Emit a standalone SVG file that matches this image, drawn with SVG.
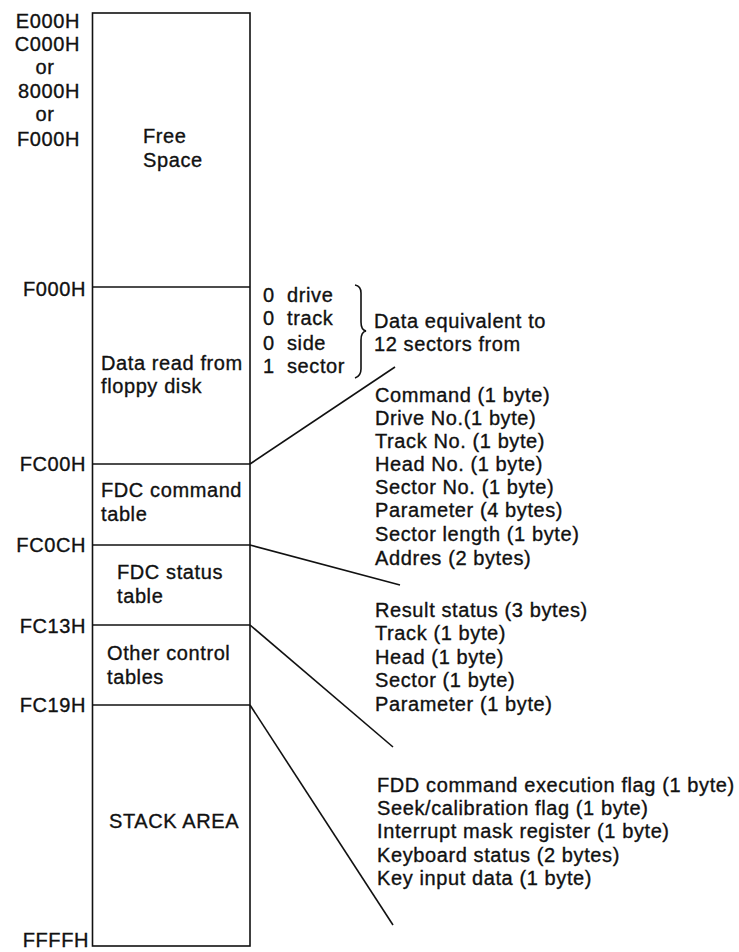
<svg xmlns="http://www.w3.org/2000/svg" width="739" height="952" viewBox="0 0 739 952">
  <style>
    text { font-family: "Liberation Sans", Arial, sans-serif; font-size: 20px; letter-spacing: 0.6px; fill: #111; stroke: #111; stroke-width: 0.35px; }
    .addr { text-anchor: end; }
    .mid { text-anchor: middle; }
    .ln { stroke: #111; stroke-width: 1.6; fill: none; }
  </style>
  <rect width="739" height="952" fill="#fff"/>

  <!-- memory map column -->
  <g id="memory-map">
    <rect class="ln" x="92.5" y="13" width="157.5" height="933"/>
  </g>

  <g id="free-space">
    <text class="addr" x="80" y="28">E000H</text>
    <text class="addr" x="80" y="51">C000H</text>
    <text class="mid" x="45" y="74">or</text>
    <text class="addr" x="80" y="98">8000H</text>
    <text class="mid" x="45" y="121">or</text>
    <text class="addr" x="80" y="146">F000H</text>
    <text x="143" y="143">Free</text>
    <text x="143" y="167">Space</text>
  </g>

  <g id="disk-data">
    <line class="ln" x1="92.5" y1="287" x2="250" y2="287"/>
    <text class="addr" x="86" y="296">F000H</text>
    <text x="101" y="370">Data read from</text>
    <text x="101" y="393">floppy disk</text>
  </g>

  <g id="fdc-command">
    <line class="ln" x1="92.5" y1="464" x2="250" y2="464"/>
    <text class="addr" x="86" y="471">FC00H</text>
    <text x="101" y="497">FDC command</text>
    <text x="101" y="521">table</text>
  </g>

  <g id="fdc-status">
    <line class="ln" x1="92.5" y1="545" x2="250" y2="545"/>
    <text class="addr" x="86" y="552">FC0CH</text>
    <text x="117" y="579">FDC status</text>
    <text x="117" y="603">table</text>
  </g>

  <g id="other-tables">
    <line class="ln" x1="92.5" y1="625" x2="250" y2="625"/>
    <text class="addr" x="86" y="633">FC13H</text>
    <text x="107" y="660">Other control</text>
    <text x="107" y="684">tables</text>
  </g>

  <g id="stack-area">
    <line class="ln" x1="92.5" y1="705" x2="250" y2="705"/>
    <text class="addr" x="86" y="712">FC19H</text>
    <text x="109" y="828">STACK AREA</text>
    <text class="addr" x="89" y="947">FFFFH</text>
  </g>

  <!-- source sector description with brace -->
  <g id="sector-source">
    <text x="263" y="302">0</text><text x="287" y="302">drive</text>
    <text x="263" y="325">0</text><text x="287" y="325">track</text>
    <text x="263" y="350">0</text><text x="287" y="350">side</text>
    <text x="263" y="373">1</text><text x="287" y="373">sector</text>
    <path class="ln" d="M355,285 Q361,286 361,293 L361,322 Q361,330 366,331 Q361,332 361,340 L361,369 Q361,376 355,378"/>
    <text x="374" y="328">Data equivalent to</text>
    <text x="374" y="351">12 sectors from</text>
  </g>

  <g id="command-fields">
    <text x="375" y="402">Command (1 byte)</text>
    <text x="375" y="425">Drive No.(1 byte)</text>
    <text x="375" y="448">Track No. (1 byte)</text>
    <text x="375" y="471">Head No. (1 byte)</text>
    <text x="375" y="494">Sector No. (1 byte)</text>
    <text x="375" y="517">Parameter (4 bytes)</text>
    <text x="375" y="541">Sector length (1 byte)</text>
    <text x="375" y="565">Addres (2 bytes)</text>
  </g>

  <g id="status-fields">
    <text x="375" y="617">Result status (3 bytes)</text>
    <text x="375" y="640">Track (1 byte)</text>
    <text x="375" y="664">Head (1 byte)</text>
    <text x="375" y="687">Sector (1 byte)</text>
    <text x="375" y="711">Parameter (1 byte)</text>
  </g>

  <g id="control-fields">
    <text x="377" y="792">FDD command execution flag (1 byte)</text>
    <text x="377" y="815">Seek/calibration flag (1 byte)</text>
    <text x="377" y="838">Interrupt mask register (1 byte)</text>
    <text x="377" y="862">Keyboard status (2 bytes)</text>
    <text x="377" y="885">Key input data (1 byte)</text>
  </g>

  <!-- leader lines from boundaries to field lists -->
  <g id="connectors">
    <line class="ln" x1="250" y1="464" x2="395" y2="367"/>
    <line class="ln" x1="250" y1="545" x2="400" y2="585"/>
    <line class="ln" x1="250" y1="625" x2="393" y2="747"/>
    <line class="ln" x1="250" y1="705" x2="393" y2="925"/>
  </g>
</svg>
